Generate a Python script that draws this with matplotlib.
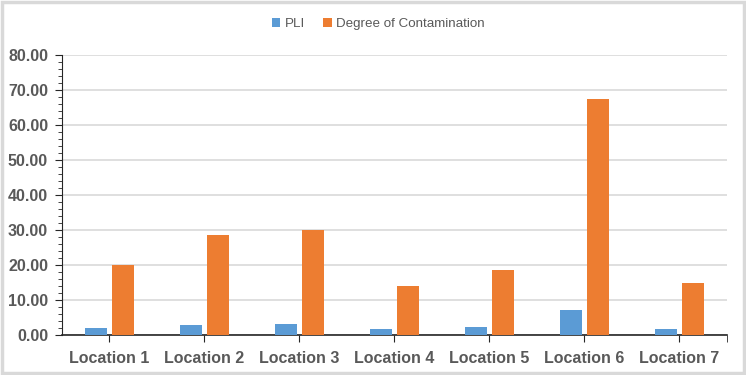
import numpy as np
import matplotlib.pyplot as plt
from matplotlib.patches import Rectangle
from matplotlib.ticker import MultipleLocator, FormatStrFormatter

# data
locations = ['Location 1', 'Location 2', 'Location 3', 'Location 4',
             'Location 5', 'Location 6', 'Location 7']
pli = [2.0, 2.8, 3.1, 1.7, 2.3, 7.1, 1.7]
contamination = [20.1, 28.5, 30.0, 14.1, 18.6, 67.5, 15.0]

blue = '#5B9BD5'
orange = '#ED7D31'
grey_txt = '#595959'

plt.rcParams['font.family'] = ['Liberation Sans', 'DejaVu Sans']

fig = plt.figure(figsize=(7.46, 3.75), dpi=100)
fig.patches.append(Rectangle((0.003, 0.005), 0.994, 0.99, transform=fig.transFigure,
                             fill=False, edgecolor='#d9d9d9', linewidth=2.5))
ax = fig.add_axes([0.083, 0.106, 0.8915, 0.748])

x = np.arange(len(locations))
w = 0.232
off = 0.142
ax.bar(x - off, pli, w, color=blue, label='PLI', zorder=3)
ax.bar(x + off, contamination, w, color=orange, label='Degree of Contamination', zorder=3)

ax.set_xlim(-0.5, len(locations) - 0.5)
ax.set_ylim(0, 80)
ax.yaxis.set_major_locator(MultipleLocator(10))
ax.yaxis.set_minor_locator(MultipleLocator(2))
ax.yaxis.set_major_formatter(FormatStrFormatter('%.2f'))
ax.grid(axis='y', color='#d9d9d9', linewidth=1.2, zorder=0)

ax.set_xticks(x)
ax.set_xticklabels(locations)
ax.set_xticks([len(locations) - 0.5], minor=True)

for s in ['top', 'right']:
    ax.spines[s].set_visible(False)
ax.spines['left'].set_color('#262626')
ax.spines['bottom'].set_color('#262626')
ax.spines['bottom'].set_linewidth(1.2)

ax.tick_params(axis='y', which='major', length=5, color='#262626', labelsize=11.5,
               labelcolor=grey_txt, pad=5)
ax.tick_params(axis='y', which='minor', length=3, color='#262626')
ax.tick_params(axis='x', which='both', length=5, color='#262626', labelsize=11.5,
               labelcolor=grey_txt, pad=6)
for lab in ax.get_xticklabels() + ax.get_yticklabels():
    lab.set_fontweight('bold')

fig.legend(loc='center', bbox_to_anchor=(0.507, 0.936), ncol=2, frameon=False,
           fontsize=9.6, handlelength=0.65, handleheight=0.65, columnspacing=1.4,
           handletextpad=0.3, labelcolor=grey_txt)

fig.savefig('out.png', dpi=100)
